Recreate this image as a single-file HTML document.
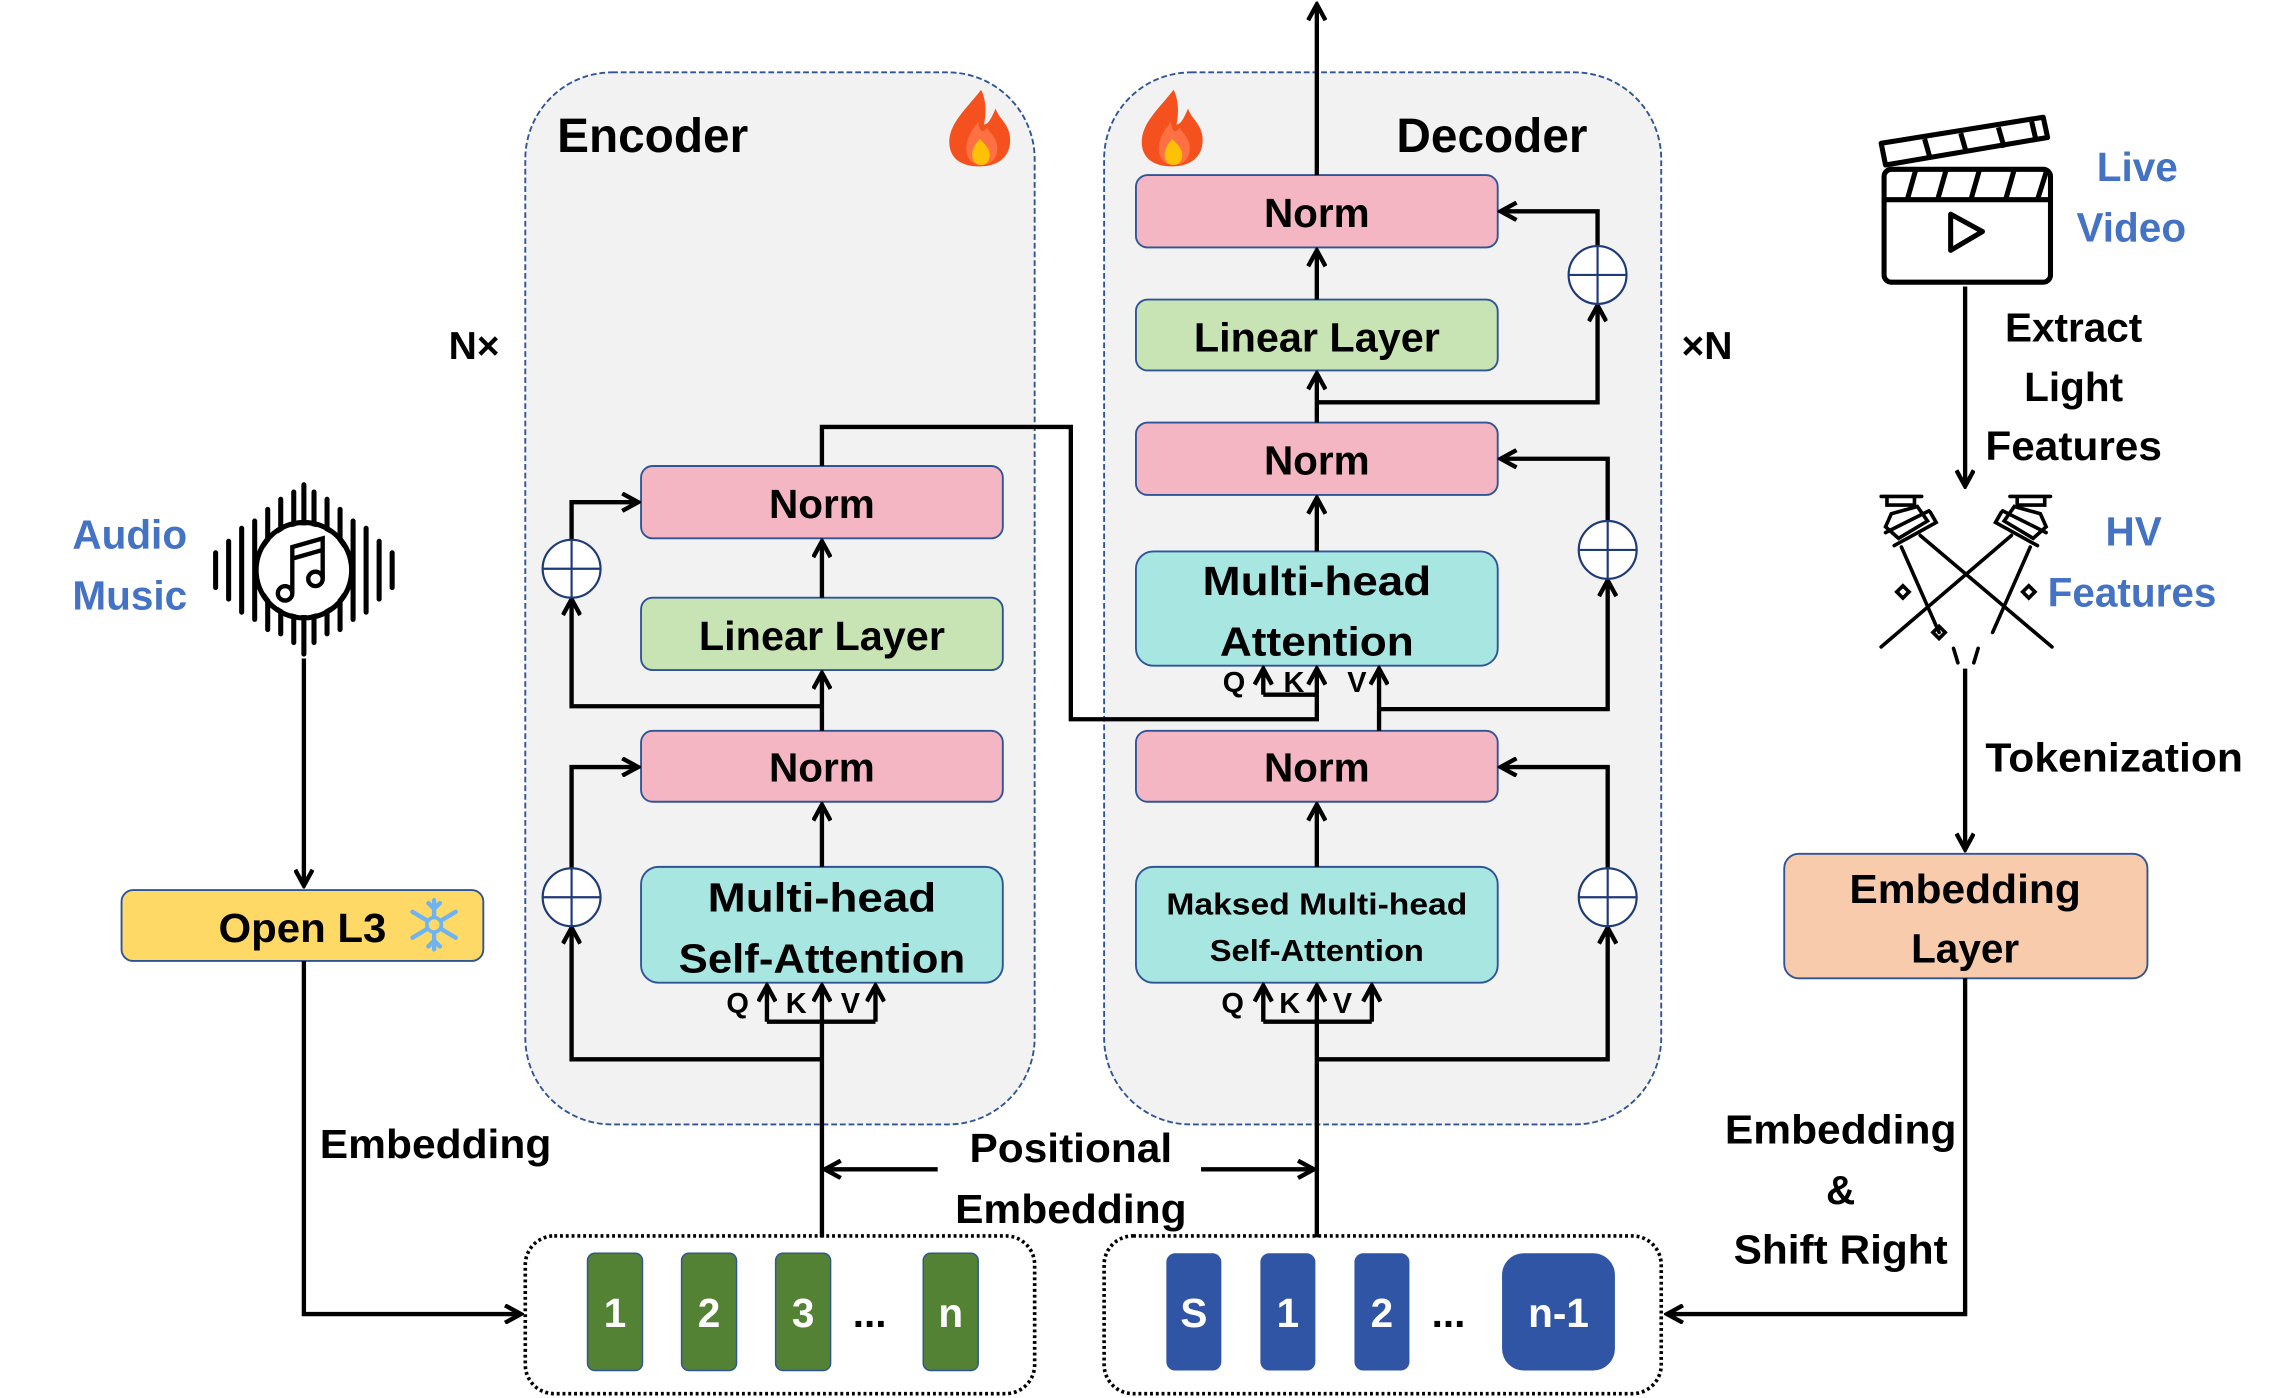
<!DOCTYPE html>
<html><head><meta charset="utf-8"><style>
html,body{margin:0;padding:0;background:#fff;}
svg{display:block;}
text{font-family:"Liberation Sans",sans-serif;font-weight:bold;}
</style></head><body>
<svg width="2269" height="1398" viewBox="0 0 1568 966" preserveAspectRatio="none" xmlns="http://www.w3.org/2000/svg">
<defs>
<marker id="a" viewBox="0 0 14 14" refX="12" refY="7" markerWidth="14" markerHeight="14" markerUnits="userSpaceOnUse" orient="auto">
<path d="M1,1 L12,7 L1,13" fill="none" stroke="#000" stroke-width="3"/>
</marker>
</defs>
<rect width="1568" height="966" fill="#fff"/>
<rect x="363" y="50" width="352" height="727" rx="60" fill="#f2f2f2" stroke="#2F5597" stroke-width="1.3" stroke-dasharray="4,2"/>
<rect x="763" y="50" width="385" height="727" rx="60" fill="#f2f2f2" stroke="#2F5597" stroke-width="1.3" stroke-dasharray="4,2"/>
<text x="385" y="105" font-size="33">Encoder</text>
<text x="965" y="105" font-size="33">Decoder</text>
<text x="310" y="248" font-size="27">N×</text>
<text x="1162" y="248" font-size="27">×N</text>
<g id="fl">
<path d="M678,62 C668,75 656,85 656,98 C656,110 665,115 677,115 C690,115 699,108 698,95 C697,85 690,82 688,75 C685,82 683,86 680,86 C682,76 681,68 678,62Z" fill="#F4511E"/>
<path d="M676,84 C670,92 667,98 668,105 C669,112 674,114 678,114 C686,114 690,108 689,100 C688,94 684,92 682,88 C680,92 677,92 676,84Z" fill="#FF7043"/>
<path d="M677,96 C673,101 671,105 672,109 C673,113 676,114 678,114 C682,114 684,111 684,107 C684,103 681,100 677,96Z" fill="#FFC107"/>
</g>
<use href="#fl" x="133" y="0"/>
<g stroke="#2F5597" stroke-width="1.3">
<rect x="443" y="322" width="250" height="50" rx="8" fill="#F4B6C2"/>
<rect x="443" y="413" width="250" height="50" rx="8" fill="#C9E4B4"/>
<rect x="443" y="505" width="250" height="49" rx="8" fill="#F4B6C2"/>
<rect x="443" y="599" width="250" height="80" rx="12" fill="#A8E6E2"/>
<rect x="785" y="121" width="250" height="50" rx="8" fill="#F4B6C2"/>
<rect x="785" y="207" width="250" height="49" rx="8" fill="#C9E4B4"/>
<rect x="785" y="292" width="250" height="50" rx="8" fill="#F4B6C2"/>
<rect x="785" y="381" width="250" height="79" rx="12" fill="#A8E6E2"/>
<rect x="785" y="505" width="250" height="49" rx="8" fill="#F4B6C2"/>
<rect x="785" y="599" width="250" height="80" rx="12" fill="#A8E6E2"/>
<rect x="84" y="615" width="250" height="49" rx="8" fill="#FFD966"/>
<rect x="1233" y="590" width="251" height="86" rx="10" fill="#F8CBAD"/>
</g>
<g font-size="28" text-anchor="middle">
<text x="568" y="358">Norm</text>
<text x="568" y="449" textLength="170" lengthAdjust="spacingAndGlyphs">Linear Layer</text>
<text x="568" y="540">Norm</text>
<text x="568" y="630" textLength="158" lengthAdjust="spacingAndGlyphs">Multi-head</text>
<text x="568" y="672" textLength="198" lengthAdjust="spacingAndGlyphs">Self-Attention</text>
<text x="910" y="157">Norm</text>
<text x="910" y="243" textLength="170" lengthAdjust="spacingAndGlyphs">Linear Layer</text>
<text x="910" y="328">Norm</text>
<text x="910" y="411" textLength="158" lengthAdjust="spacingAndGlyphs">Multi-head</text>
<text x="910" y="453" textLength="134" lengthAdjust="spacingAndGlyphs">Attention</text>
<text x="910" y="540">Norm</text>
<text x="910" y="632" font-size="21" textLength="208" lengthAdjust="spacingAndGlyphs">Maksed Multi-head</text>
<text x="910" y="664" font-size="21" textLength="148" lengthAdjust="spacingAndGlyphs">Self-Attention</text>
<text x="209" y="651" textLength="116" lengthAdjust="spacingAndGlyphs">Open L3</text>
<text x="1358" y="624" textLength="160" lengthAdjust="spacingAndGlyphs">Embedding</text>
<text x="1358" y="665">Layer</text>
</g>
<g stroke="#6EB4F2" stroke-width="3" fill="none" stroke-linecap="round">
<path d="M300,622 V656 M285,630 L315,648 M285,648 L315,630"/>
<path d="M296,624 L300,628 L304,624 M296,654 L300,650 L304,654"/>
</g>
<circle cx="300" cy="639" r="5" fill="#FFD966" stroke="#6EB4F2" stroke-width="2.5"/>
<g font-size="20">
<text x="502" y="700">Q</text><text x="543" y="700">K</text><text x="581" y="700">V</text>
<text x="844" y="700">Q</text><text x="884" y="700">K</text><text x="921" y="700">V</text>
<text x="845" y="478">Q</text><text x="887" y="478">K</text><text x="931" y="478">V</text>
</g>
<g fill="none" stroke="#000" stroke-width="3">
<path d="M568,855 V706"/>
<path d="M530,706 H605"/>
<path d="M530,706 V681" marker-end="url(#a)"/>
<path d="M568,706 V681" marker-end="url(#a)"/>
<path d="M605,706 V681" marker-end="url(#a)"/>
<path d="M568,732 H395 V641" marker-end="url(#a)"/>
<path d="M395,600 V530 H441" marker-end="url(#a)"/>
<path d="M568,599 V556" marker-end="url(#a)"/>
<path d="M568,505 V465" marker-end="url(#a)"/>
<path d="M568,488 H395 V414" marker-end="url(#a)"/>
<path d="M395,373 V347 H441" marker-end="url(#a)"/>
<path d="M568,413 V374" marker-end="url(#a)"/>
<path d="M568,322 V295 H740 V497 H910 V480"/>
<path d="M910,855 V706"/>
<path d="M873,706 H948"/>
<path d="M873,706 V681" marker-end="url(#a)"/>
<path d="M910,706 V681" marker-end="url(#a)"/>
<path d="M948,706 V681" marker-end="url(#a)"/>
<path d="M910,732 H1111 V641" marker-end="url(#a)"/>
<path d="M1111,600 V530 H1037" marker-end="url(#a)"/>
<path d="M910,599 V556" marker-end="url(#a)"/>
<path d="M953,505 V462" marker-end="url(#a)"/>
<path d="M953,490 H1111 V401" marker-end="url(#a)"/>
<path d="M1111,360 V317 H1037" marker-end="url(#a)"/>
<path d="M873,480 H910"/>
<path d="M873,480 V462" marker-end="url(#a)"/>
<path d="M910,480 V462" marker-end="url(#a)"/>
<path d="M910,381 V344" marker-end="url(#a)"/>
<path d="M910,292 V258" marker-end="url(#a)"/>
<path d="M910,278 H1104 V211" marker-end="url(#a)"/>
<path d="M1104,170 V146 H1037" marker-end="url(#a)"/>
<path d="M910,207 V173" marker-end="url(#a)"/>
<path d="M910,121 V3" marker-end="url(#a)"/>
<path d="M210,455 V612" marker-end="url(#a)"/>
<path d="M210,664 V908 H360" marker-end="url(#a)"/>
<path d="M1358,198 V336" marker-end="url(#a)"/>
<path d="M1358,462 V587" marker-end="url(#a)"/>
<path d="M1358,676 V908 H1152" marker-end="url(#a)"/>
<path d="M648,808 H570" marker-end="url(#a)"/>
<path d="M830,808 H908" marker-end="url(#a)"/>
</g>
<g fill="#fff" stroke="#1F3A78" stroke-width="1.5">
<circle cx="395" cy="620" r="20"/><path d="M375,620 H415 M395,600 V640"/>
<circle cx="395" cy="393" r="20"/><path d="M375,393 H415 M395,373 V413"/>
<circle cx="1111" cy="620" r="20"/><path d="M1091,620 H1131 M1111,600 V640"/>
<circle cx="1111" cy="380" r="20"/><path d="M1091,380 H1131 M1111,360 V400"/>
<circle cx="1104" cy="190" r="20"/><path d="M1084,190 H1124 M1104,170 V210"/>
</g>
<g font-size="28" fill="#4472C4">
<text x="50" y="379">Audio</text>
<text x="50" y="421">Music</text>
<text x="1449" y="125">Live</text>
<text x="1435" y="167">Video</text>
<text x="1455" y="377">HV</text>
<text x="1415" y="419">Features</text>
</g>
<g font-size="28" text-anchor="middle">
<text x="301" y="800" textLength="160" lengthAdjust="spacingAndGlyphs">Embedding</text>
<text x="740" y="803" textLength="140" lengthAdjust="spacingAndGlyphs">Positional</text>
<text x="740" y="845" textLength="160" lengthAdjust="spacingAndGlyphs">Embedding</text>
<text x="1433" y="236">Extract</text>
<text x="1433" y="277">Light</text>
<text x="1433" y="318" textLength="122" lengthAdjust="spacingAndGlyphs">Features</text>
<text x="1461" y="533" textLength="178" lengthAdjust="spacingAndGlyphs">Tokenization</text>
<text x="1272" y="790" textLength="160" lengthAdjust="spacingAndGlyphs">Embedding</text>
<text x="1272" y="832">&amp;</text>
<text x="1272" y="873" textLength="148" lengthAdjust="spacingAndGlyphs">Shift Right</text>
</g>
<g stroke="#000" stroke-width="3.5" stroke-linecap="round" fill="none">
<path d="M149,382 V406 M158,374 V414 M167,365 V423 M176,360 V428 M185,352 V435 M194,345 V438 M203,340 V444 M210,335 V452 M217,340 V444 M226,345 V438 M235,352 V435 M244,360 V428 M253,365 V423 M262,374 V414 M271,382 V406"/>
</g>
<circle cx="210" cy="394" r="31" fill="#fff" stroke="none"/>
<circle cx="210" cy="394" r="33" fill="none" stroke="#000" stroke-width="3.5"/>
<g stroke="#000" stroke-width="3" fill="none">
<path d="M202,410 V378 L223,372 V400"/><path d="M202,386 L223,380"/>
<circle cx="197" cy="410" r="5"/><circle cx="218" cy="400" r="5"/>
</g>
<g stroke="#000" stroke-width="3.5" fill="none" stroke-linejoin="round">
<rect x="1302" y="117" width="115" height="78" rx="5"/>
<path d="M1302,138 H1417"/>
<path d="M1324,117 L1318,138 M1345,117 L1339,138 M1368,117 L1362,138 M1392,117 L1386,138 M1414,119 L1408,138"/>
<path d="M1300,99 L1412,81 L1415,95 L1303,114 Z"/>
<path d="M1330,96 L1334,110 M1355,92 L1359,106 M1381,88 L1385,102 M1404,84 L1407,97"/>
<path d="M1348,148 V173 L1370,160 Z"/>
</g>
<g stroke="#000" stroke-width="2.5" fill="none" stroke-linecap="round">
<path d="M1300,343 H1328 M1304,343 V349 H1323 V343"/>
<path d="M1307,355 L1325,350 L1332,360 L1312,372 L1303,364 Z"/>
<path d="M1303,368 L1333,353 M1309,377 L1338,361 L1334,354"/>
<path d="M1314,378 L1340,437 M1327,370 L1418,447"/>
<path d="M1417,343 H1389 M1413,343 V349 H1394 V343"/>
<path d="M1410,355 L1392,350 L1385,360 L1405,372 L1414,364 Z"/>
<path d="M1414,368 L1384,353 M1408,377 L1379,361 L1383,354"/>
<path d="M1403,378 L1377,437 M1390,370 L1300,447"/>
<path d="M1350,448 L1353,458 M1367,448 L1364,458"/>
<rect x="1312" y="406" width="6" height="6" transform="rotate(45 1315 409)"/>
<rect x="1399" y="406" width="6" height="6" transform="rotate(45 1402 409)"/>
<rect x="1337" y="434" width="6" height="6" transform="rotate(45 1340 437)"/>
</g>
<rect x="363" y="854" width="352" height="109" rx="20" fill="none" stroke="#000" stroke-width="2.5" stroke-dasharray="2,2"/>
<rect x="763" y="854" width="385" height="109" rx="20" fill="none" stroke="#000" stroke-width="2.5" stroke-dasharray="2,2"/>
<g fill="#548235" stroke="#2F5597" stroke-width="1">
<rect x="406" y="866" width="38" height="81" rx="5"/>
<rect x="471" y="866" width="38" height="81" rx="5"/>
<rect x="536" y="866" width="38" height="81" rx="5"/>
<rect x="638" y="866" width="38" height="81" rx="5"/>
</g>
<g fill="#2F55A4">
<rect x="806" y="866" width="38" height="81" rx="6"/>
<rect x="871" y="866" width="38" height="81" rx="6"/>
<rect x="936" y="866" width="38" height="81" rx="6"/>
<rect x="1038" y="866" width="78" height="81" rx="15"/>
</g>
<g font-size="28" fill="#fff" text-anchor="middle">
<text x="425" y="917">1</text><text x="490" y="917">2</text><text x="555" y="917">3</text><text x="657" y="917">n</text>
<text x="825" y="917">S</text><text x="890" y="917">1</text><text x="955" y="917">2</text><text x="1077" y="917">n-1</text>
</g>
<g font-size="28" text-anchor="middle">
<text x="601" y="917">...</text><text x="1001" y="917">...</text>
</g>
</svg>
</body></html>
